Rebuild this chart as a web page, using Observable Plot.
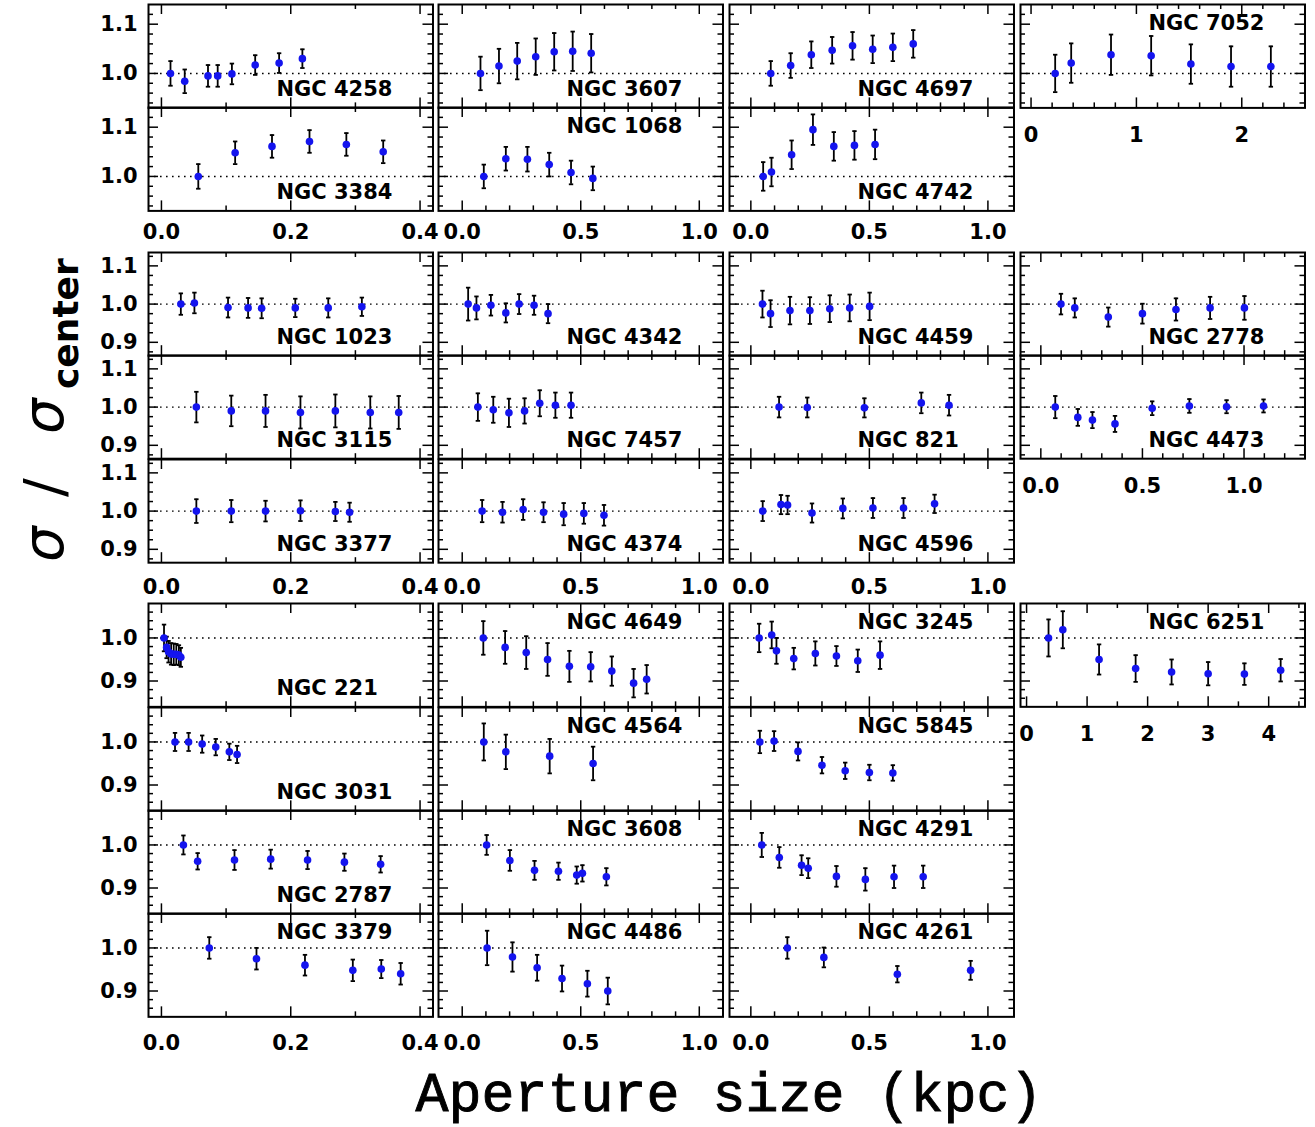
<!DOCTYPE html>
<html><head><meta charset="utf-8">
<script src="https://cdn.jsdelivr.net/npm/d3@7"></script>
<script src="https://cdn.jsdelivr.net/npm/@observablehq/plot@0.6"></script>
<style>
body{margin:0;background:#fff;}
#chart{position:relative;width:1315px;height:1127px;overflow:hidden;background:#fff;}
</style></head><body><div id="chart"></div>
<script>
// ---- data: [aperture size (kpc), sigma/sigma_center, error] ----
const ngc4258 = [[0.014,1.000,0.025],[0.036,0.984,0.024],[0.072,0.995,0.022],[0.087,0.995,0.022],[0.109,0.999,0.021],[0.145,1.017,0.020],[0.182,1.021,0.020],[0.218,1.030,0.019]];
const ngc3607 = [[0.077,1.000,0.034],[0.155,1.015,0.035],[0.232,1.025,0.037],[0.310,1.034,0.037],[0.388,1.044,0.038],[0.466,1.045,0.040],[0.544,1.041,0.039]];
const ngc4697 = [[0.084,1.000,0.025],[0.168,1.016,0.025],[0.255,1.038,0.027],[0.343,1.047,0.027],[0.429,1.056,0.028],[0.514,1.049,0.028],[0.599,1.053,0.028],[0.685,1.060,0.028]];
const ngc7052 = [[0.229,1.000,0.038],[0.381,1.021,0.040],[0.759,1.038,0.041],[1.140,1.036,0.040],[1.517,1.019,0.040],[1.898,1.014,0.041],[2.276,1.014,0.041]];
const ngc3384 = [[0.057,1.000,0.025],[0.114,1.048,0.023],[0.171,1.061,0.023],[0.229,1.071,0.023],[0.286,1.065,0.023],[0.343,1.050,0.023]];
const ngc1068 = [[0.091,1.000,0.024],[0.184,1.036,0.024],[0.275,1.035,0.025],[0.367,1.024,0.024],[0.459,1.008,0.024],[0.551,0.996,0.024]];
const ngc4742 = [[0.052,1.000,0.029],[0.087,1.009,0.029],[0.172,1.044,0.029],[0.262,1.095,0.031],[0.350,1.061,0.029],[0.437,1.063,0.029],[0.524,1.065,0.030]];

const ngc1023 = [[0.030,1.000,0.028],[0.051,1.003,0.027],[0.103,0.991,0.026],[0.134,0.990,0.026],[0.155,0.989,0.026],[0.207,0.990,0.024],[0.258,0.990,0.025],[0.310,0.993,0.024]];
const ngc4342 = [[0.025,1.000,0.043],[0.060,0.990,0.030],[0.121,0.997,0.027],[0.184,0.977,0.025],[0.240,1.000,0.026],[0.303,0.997,0.025],[0.362,0.975,0.025]];
const ngc4459 = [[0.049,1.000,0.035],[0.083,0.975,0.035],[0.165,0.983,0.036],[0.249,0.983,0.035],[0.333,0.988,0.035],[0.417,0.990,0.035],[0.501,0.994,0.036]];
const ngc2778 = [[0.099,1.000,0.027],[0.167,0.990,0.025],[0.332,0.966,0.025],[0.500,0.975,0.026],[0.665,0.986,0.029],[0.833,0.990,0.029],[1.002,0.990,0.031]];
const ngc3115 = [[0.054,1.000,0.040],[0.108,0.990,0.040],[0.161,0.990,0.042],[0.215,0.986,0.042],[0.269,0.990,0.043],[0.323,0.986,0.042],[0.367,0.986,0.043]];
const ngc7457 = [[0.066,1.000,0.036],[0.131,0.993,0.034],[0.197,0.985,0.037],[0.263,0.990,0.033],[0.327,1.010,0.034],[0.393,1.005,0.033],[0.459,1.005,0.033]];
const ngc821  = [[0.119,1.000,0.027],[0.238,0.999,0.026],[0.479,0.998,0.025],[0.719,1.011,0.027],[0.836,1.005,0.027]];
const ngc4473 = [[0.071,1.000,0.029],[0.182,0.973,0.022],[0.254,0.966,0.021],[0.365,0.956,0.021],[0.548,0.997,0.018],[0.731,1.003,0.018],[0.914,1.001,0.017],[1.096,1.003,0.017]];
const ngc3377 = [[0.054,1.000,0.031],[0.108,1.000,0.029],[0.161,1.000,0.027],[0.215,1.001,0.027],[0.269,0.999,0.025],[0.291,0.997,0.025]];
const ngc4374 = [[0.084,1.000,0.029],[0.170,0.997,0.027],[0.257,1.004,0.027],[0.343,0.997,0.026],[0.428,0.992,0.029],[0.513,0.994,0.027],[0.598,0.989,0.027]];
const ngc4596 = [[0.050,1.000,0.026],[0.127,1.017,0.025],[0.155,1.016,0.024],[0.258,0.995,0.025],[0.388,1.007,0.026],[0.515,1.008,0.026],[0.644,1.008,0.026],[0.775,1.019,0.024]];

const ngc221  = [[0.004,1.000,0.031],[0.008,0.978,0.025],[0.011,0.968,0.025],[0.015,0.963,0.025],[0.019,0.962,0.025],[0.023,0.962,0.024],[0.027,0.960,0.023],[0.030,0.955,0.022]];
const ngc4649 = [[0.089,1.000,0.039],[0.181,0.978,0.038],[0.270,0.966,0.038],[0.360,0.950,0.038],[0.452,0.934,0.036],[0.542,0.933,0.034],[0.631,0.923,0.034],[0.723,0.895,0.033],[0.778,0.904,0.033]];
const ngc3245 = [[0.035,1.000,0.033],[0.088,1.007,0.031],[0.108,0.970,0.030],[0.181,0.952,0.025],[0.272,0.964,0.028],[0.361,0.958,0.023],[0.451,0.947,0.026],[0.545,0.960,0.032]];
const ngc6251 = [[0.363,1.000,0.043],[0.599,1.019,0.043],[1.198,0.950,0.035],[1.802,0.929,0.031],[2.396,0.921,0.029],[3.000,0.917,0.027],[3.599,0.916,0.025],[4.198,0.925,0.026]];
const ngc3031 = [[0.021,1.000,0.021],[0.042,1.000,0.021],[0.063,0.995,0.020],[0.084,0.988,0.019],[0.105,0.977,0.019],[0.117,0.971,0.020]];
const ngc4564 = [[0.091,1.000,0.043],[0.184,0.977,0.040],[0.369,0.967,0.040],[0.552,0.950,0.039]];
const ngc5845 = [[0.038,1.000,0.026],[0.098,1.002,0.023],[0.199,0.978,0.021],[0.300,0.946,0.019],[0.398,0.933,0.019],[0.500,0.929,0.018],[0.599,0.928,0.018]];
const ngc2787 = [[0.034,1.000,0.022],[0.056,0.962,0.019],[0.113,0.965,0.023],[0.169,0.967,0.022],[0.226,0.965,0.021],[0.283,0.960,0.020],[0.339,0.955,0.019]];
const ngc3608 = [[0.103,1.000,0.023],[0.201,0.964,0.024],[0.305,0.941,0.022],[0.406,0.939,0.020],[0.483,0.930,0.020],[0.507,0.934,0.019],[0.608,0.926,0.020]];
const ngc4291 = [[0.046,1.000,0.028],[0.120,0.971,0.024],[0.214,0.953,0.023],[0.242,0.946,0.023],[0.361,0.927,0.024],[0.483,0.920,0.026],[0.604,0.926,0.026],[0.727,0.926,0.026]];
const ngc3379 = [[0.074,1.000,0.025],[0.147,0.975,0.025],[0.222,0.960,0.024],[0.296,0.948,0.025],[0.340,0.951,0.021],[0.370,0.940,0.025]];
const ngc4486 = [[0.105,1.000,0.040],[0.212,0.979,0.034],[0.316,0.954,0.030],[0.421,0.929,0.030],[0.528,0.917,0.030],[0.614,0.900,0.031]];
const ngc4261 = [[0.154,1.000,0.025],[0.308,0.978,0.023],[0.618,0.939,0.019],[0.927,0.948,0.022]];

// ---- tick values and labels ----
const xTicksA = [0, 0.2, 0.4];          const xLabelsA = ["0.0", "0.2", "0.4"];   const xMinorA = [0.1, 0.3];
const xTicksB = [0, 0.5, 1.0];          const xLabelsB = ["0.0", "0.5", "1.0"];   const xMinorB = [0.1,0.2,0.3,0.4,0.6,0.7,0.8,0.9];
const xTicksC = [0, 1, 2];              const xLabelsC = ["0", "1", "2"];         const xMinorC = [0.2,0.4,0.6,0.8,1.2,1.4,1.6,1.8,2.2,2.4];
const xTicksD = [0, 0.5, 1.0];          const xLabelsD = ["0.0", "0.5", "1.0"];   const xMinorD = [0.1,0.2,0.3,0.4,0.6,0.7,0.8,0.9,1.1,1.2];
const xTicksE = [0, 1, 2, 3, 4];        const xLabelsE = ["0", "1", "2", "3", "4"]; const xMinorE = [0.5,1.5,2.5,3.5,4.5];
const yTicks1 = [1.0, 1.1];             const yLabels1 = ["1.0", "1.1"];          const yMinor1 = [0.94,0.96,0.98,1.02,1.04,1.06,1.08,1.12];
const yTicks2 = [0.9, 1.0, 1.1];        const yLabels2 = ["0.9", "1.0", "1.1"];   const yMinor2 = [0.875,0.925,0.95,0.975,1.025,1.05,1.075,1.125];
const yTicks3 = [0.9, 1.0];             const yLabels3 = ["0.9", "1.0"];          const yMinor3 = [0.86,0.88,0.92,0.94,0.96,0.98,1.02,1.04,1.06];

// ---- layout ----
const W = 284.5;
const colLeft = [148, 438.3, 728.5, 1020];
const groups = [
  {top: 4,     rowH: 103.4,  y: [0.93, 1.14],   yt: yTicks1, yl: yLabels1, ym: yMinor1, pad: 13},
  {top: 252.2, rowH: 103.2,  y: [0.865, 1.135], yt: yTicks2, yl: yLabels2, ym: yMinor2, pad: 16},
  {top: 603.3, rowH: 103.35, y: [0.84, 1.08],   yt: yTicks3, yl: yLabels3, ym: yMinor3, pad: 18}
];
function xAxisFor(g, c) {
  if (c === 0) return {d: [-0.02, 0.42], t: xTicksA, l: xLabelsA, m: xMinorA};
  if (c === 1) return {d: [-0.1, 1.1], t: xTicksB, l: xLabelsB, m: xMinorB};
  if (c === 2) return {d: [-0.09, 1.11], t: xTicksB, l: xLabelsB, m: xMinorB};
  if (g === 0) return {d: [-0.1, 2.6], t: xTicksC, l: xLabelsC, m: xMinorC};
  if (g === 1) return {d: [-0.1, 1.3], t: xTicksD, l: xLabelsD, m: xMinorD};
  return {d: [-0.1, 4.6], t: xTicksE, l: xLabelsE, m: xMinorE};
}
// [name, data, group, row, col, label position, show x labels]
const panels = [
  ["NGC 4258", ngc4258, 0, 0, 0, "b", false], ["NGC 3607", ngc3607, 0, 0, 1, "b", false],
  ["NGC 4697", ngc4697, 0, 0, 2, "b", false], ["NGC 7052", ngc7052, 0, 0, 3, "t", true],
  ["NGC 3384", ngc3384, 0, 1, 0, "b", true],  ["NGC 1068", ngc1068, 0, 1, 1, "t", true],
  ["NGC 4742", ngc4742, 0, 1, 2, "b", true],
  ["NGC 1023", ngc1023, 1, 0, 0, "b", false], ["NGC 4342", ngc4342, 1, 0, 1, "b", false],
  ["NGC 4459", ngc4459, 1, 0, 2, "b", false], ["NGC 2778", ngc2778, 1, 0, 3, "b", false],
  ["NGC 3115", ngc3115, 1, 1, 0, "b", false], ["NGC 7457", ngc7457, 1, 1, 1, "b", false],
  ["NGC 821",  ngc821,  1, 1, 2, "b", false], ["NGC 4473", ngc4473, 1, 1, 3, "b", true],
  ["NGC 3377", ngc3377, 1, 2, 0, "b", true],  ["NGC 4374", ngc4374, 1, 2, 1, "b", true],
  ["NGC 4596", ngc4596, 1, 2, 2, "b", true],
  ["NGC 221",  ngc221,  2, 0, 0, "b", false], ["NGC 4649", ngc4649, 2, 0, 1, "t", false],
  ["NGC 3245", ngc3245, 2, 0, 2, "t", false], ["NGC 6251", ngc6251, 2, 0, 3, "t", true],
  ["NGC 3031", ngc3031, 2, 1, 0, "b", false], ["NGC 4564", ngc4564, 2, 1, 1, "t", false],
  ["NGC 5845", ngc5845, 2, 1, 2, "t", false],
  ["NGC 2787", ngc2787, 2, 2, 0, "b", false], ["NGC 3608", ngc3608, 2, 2, 1, "t", false],
  ["NGC 4291", ngc4291, 2, 2, 2, "t", false],
  ["NGC 3379", ngc3379, 2, 3, 0, "t", true],  ["NGC 4486", ngc4486, 2, 3, 1, "t", true],
  ["NGC 4261", ngc4261, 2, 3, 2, "t", true]
];

const FONT = "DejaVu Sans";
const cap = {draw(ctx) { ctx.moveTo(-2.2, 0); ctx.lineTo(2.2, 0); }};
const chart = document.getElementById("chart");

for (const [name, data, g, row, c, lp, showX] of panels) {
  const G = groups[g];
  const X = xAxisFor(g, c);
  const H = G.rowH;
  const showY = c === 0;
  const ml = showY ? 60 : 0, mb = showX ? 45 : 0;
  const tk = {stroke: "#000", strokeWidth: 1.5};
  const pad = c === 3 ? 19 : G.pad;
  const marks = [
    Plot.ruleY([1], {y: d => d, stroke: "#000", strokeWidth: 1.4, strokeDasharray: "1.6,4.4"}),
    Plot.tickX(X.t, {x: d => d, insetTop: H - 10, ...tk}),
    Plot.tickX(X.t, {x: d => d, insetBottom: H - 10, ...tk}),
    Plot.tickX(X.m, {x: d => d, insetTop: H - 5, ...tk}),
    Plot.tickX(X.m, {x: d => d, insetBottom: H - 5, ...tk}),
    Plot.tickY(G.yt, {y: d => d, insetRight: W - 10, ...tk}),
    Plot.tickY(G.yt, {y: d => d, insetLeft: W - 10, ...tk}),
    Plot.tickY(G.ym, {y: d => d, insetRight: W - 5, ...tk}),
    Plot.tickY(G.ym, {y: d => d, insetLeft: W - 5, ...tk}),
    Plot.ruleX(data, {x: d => d[0], y1: d => d[1] - d[2], y2: d => d[1] + d[2], stroke: "#000", strokeWidth: 1.8}),
    Plot.dot(data, {x: d => d[0], y: d => d[1] - d[2], symbol: cap, r: 2, stroke: "#000", strokeWidth: 1.8, fill: "none"}),
    Plot.dot(data, {x: d => d[0], y: d => d[1] + d[2], symbol: cap, r: 2, stroke: "#000", strokeWidth: 1.8, fill: "none"}),
    Plot.dot(data, {x: d => d[0], y: d => d[1], r: 3.8, fill: "#1414ee"}),
    Plot.frame({stroke: "#000", strokeWidth: 2}),
    Plot.text([name], {text: d => d, frameAnchor: "top-left", textAnchor: "start", lineAnchor: "top",
      dx: 128, dy: lp === "t" ? 10.5 : 77, fontSize: 21, fontWeight: "bold", fontFamily: FONT, fill: "#000"})
  ];
  if (showX) {
    marks.push(Plot.text(X.t, {x: d => d, text: (d, i) => X.l[i], frameAnchor: "bottom", lineAnchor: "top",
      textAnchor: "middle", dy: pad, fontSize: 21, fontWeight: "bold", fontFamily: FONT, fill: "#000"}));
  }
  if (showY) {
    marks.push(Plot.text(G.yt, {y: d => d, text: (d, i) => G.yl[i], frameAnchor: "left", lineAnchor: "middle",
      textAnchor: "end", dx: -11, fontSize: 21, fontWeight: "bold", fontFamily: FONT, fill: "#000"}));
  }
  const svg = Plot.plot({
    width: W + ml, height: H + mb,
    marginLeft: ml, marginRight: 0, marginTop: 0, marginBottom: mb,
    x: {domain: X.d, axis: null},
    y: {domain: G.y, axis: null},
    style: {background: "transparent", overflow: "visible"},
    marks
  });
  svg.style.position = "absolute";
  svg.style.left = (colLeft[c] - ml) + "px";
  svg.style.top = (G.top + row * H) + "px";
  svg.style.maxWidth = "none";
  chart.appendChild(svg);
}

// ---- axis titles ----
const ov = d3.select(chart).append("svg")
  .attr("width", 1315).attr("height", 1127)
  .style("position", "absolute").style("left", "0px").style("top", "0px")
  .style("pointer-events", "none");
ov.append("text")
  .attr("x", 729).attr("y", 1111).attr("text-anchor", "middle")
  .attr("font-family", "Liberation Mono").attr("font-size", 55)
  .attr("fill", "#000").attr("stroke", "#000").attr("stroke-width", 0.9)
  .text("Aperture size (kpc)");
const yt = ov.append("g").attr("transform", "translate(63,0)");
function rot(t, pos, size, opts = {}) {
  const e = yt.append("text").attr("transform", `translate(0,${pos}) rotate(-90)`)
    .attr("font-family", FONT).attr("font-size", size).attr("fill", "#000").attr("text-anchor", "start");
  if (opts.italic) e.attr("font-style", "italic");
  if (opts.bold) e.attr("font-weight", "bold");
  if (opts.dy) e.attr("dy", opts.dy);
  e.text(t);
}
rot("σ", 562, 56, {italic: true});
rot("/", 497, 56, {});
rot("σ", 434, 56, {italic: true});
rot("center", 389, 36, {bold: true, dy: 15});
</script>
</body></html>
